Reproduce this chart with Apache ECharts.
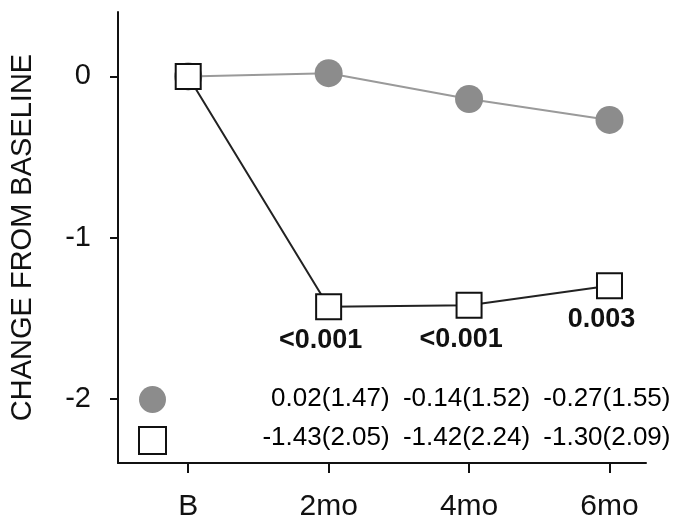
<!DOCTYPE html>
<html>
<head>
<meta charset="utf-8">
<script src="https://cdn.jsdelivr.net/npm/echarts@6/dist/echarts.min.js"></script>
<style>
html,body{margin:0;padding:0;background:#fff;}
#c{width:681px;height:524px;}
</style>
</head>
<body>
<div id="c"></div>
<script>
var categories = ['B', '2mo', '4mo', '6mo'];
var yTicks = [-2, -1, 0];
var groupA = [0, 0.02, -0.14, -0.27];      // filled circles
var groupA_sd = [null, 1.47, 1.52, 1.55];
var groupB = [0, -1.43, -1.42, -1.30];     // open squares
var groupB_sd = [null, 2.05, 2.24, 2.09];
var pValues = ['', '<0.001', '<0.001', '0.003'];
var yTitle = 'CHANGE FROM BASELINE';

var FONT = 'Arial, "Liberation Sans", Helvetica, sans-serif';
var ROW1 = -2.0, ROW2 = -2.245;

function pts(arr) { return arr.map(function (v, i) { return [i, v]; }); }
function tableRow(means, sds, rowY) {
  var out = [];
  for (var i = 1; i < means.length; i++) {
    out.push({ value: [i, rowY], txt: means[i].toFixed(2) + '(' + sds[i].toFixed(2) + ')' });
  }
  return out;
}
var tableLabel = {
  show: true, position: 'inside', align: 'right', offset: [61, 0],
  fontSize: 26, fontFamily: FONT, color: '#000', opacity: 1, textBorderWidth: 0,
  formatter: function (p) { return p.data.txt; }
};

var chart = echarts.init(document.getElementById('c'), null, { renderer: 'canvas' });
chart.setOption({
  animation: false,
  backgroundColor: '#fff',
  grid: { left: 118, right: 35, top: 12, bottom: 61, containLabel: false },
  legend: {
    orient: 'vertical', left: 138, top: 386, padding: 0, itemWidth: 27, itemHeight: 27, itemGap: 13,
    formatter: function () { return ''; },
    selectedMode: false,
    data: [
      { name: 'A', icon: 'circle', itemStyle: { color: '#8c8c8c', borderWidth: 0 } },
      { name: 'Bgrp', icon: 'rect', itemStyle: { color: '#fff', borderColor: '#111', borderWidth: 2 } }
    ]
  },
  xAxis: {
    type: 'value', min: -0.5, max: 3.26,
    splitLine: { show: false },
    axisLine: { onZero: false, lineStyle: { color: '#111', width: 2 } },
    axisTick: { show: true, length: 10, lineStyle: { color: '#111', width: 2 }, customValues: [0, 1, 2, 3] },
    axisLabel: {
      customValues: [0, 1, 2, 3], margin: 29, fontSize: 30, fontFamily: FONT, color: '#111',
      formatter: function (v) { return categories[Math.round(v)]; }
    }
  },
  yAxis: {
    type: 'value', min: -2.4, max: 0.4,
    name: yTitle, nameLocation: 'middle', nameGap: 81,
    nameTextStyle: { fontSize: 29, fontFamily: FONT, color: '#111' },
    splitLine: { show: false },
    axisLine: { show: true, onZero: false, lineStyle: { color: '#111', width: 2 } },
    axisTick: { show: true, length: 8, lineStyle: { color: '#111', width: 2 }, customValues: yTicks },
    axisLabel: {
      customValues: yTicks, margin: 27, fontSize: 29, fontFamily: FONT, color: '#111',
      formatter: function (v) { return String(v); }
    }
  },
  series: [
    {
      name: 'A', type: 'line', data: pts(groupA), symbol: 'circle', symbolSize: 28,
      itemStyle: { color: '#8c8c8c' }, lineStyle: { color: '#9a9a9a', width: 2 }, z: 2
    },
    {
      name: 'Bgrp', type: 'line', data: pts(groupB), symbol: 'rect', symbolSize: 25,
      itemStyle: { color: '#fff', borderColor: '#111', borderWidth: 2 },
      lineStyle: { color: '#222', width: 2 }, z: 3,
      label: {
        show: true, position: 'bottom', distance: 7, offset: [-8, 0],
        fontSize: 27, fontWeight: 'bold', fontFamily: FONT, color: '#111',
        formatter: function (p) { return pValues[p.dataIndex]; }
      }
    },
    {
      name: 'tableA', type: 'scatter', data: tableRow(groupA, groupA_sd, ROW1),
      symbolSize: 1, itemStyle: { color: '#fff', opacity: 1 }, label: tableLabel, silent: true
    },
    {
      name: 'tableB', type: 'scatter', data: tableRow(groupB, groupB_sd, ROW2),
      symbolSize: 1, itemStyle: { color: '#fff', opacity: 1 }, label: tableLabel, silent: true
    }
  ]
});
</script>
</body>
</html>
